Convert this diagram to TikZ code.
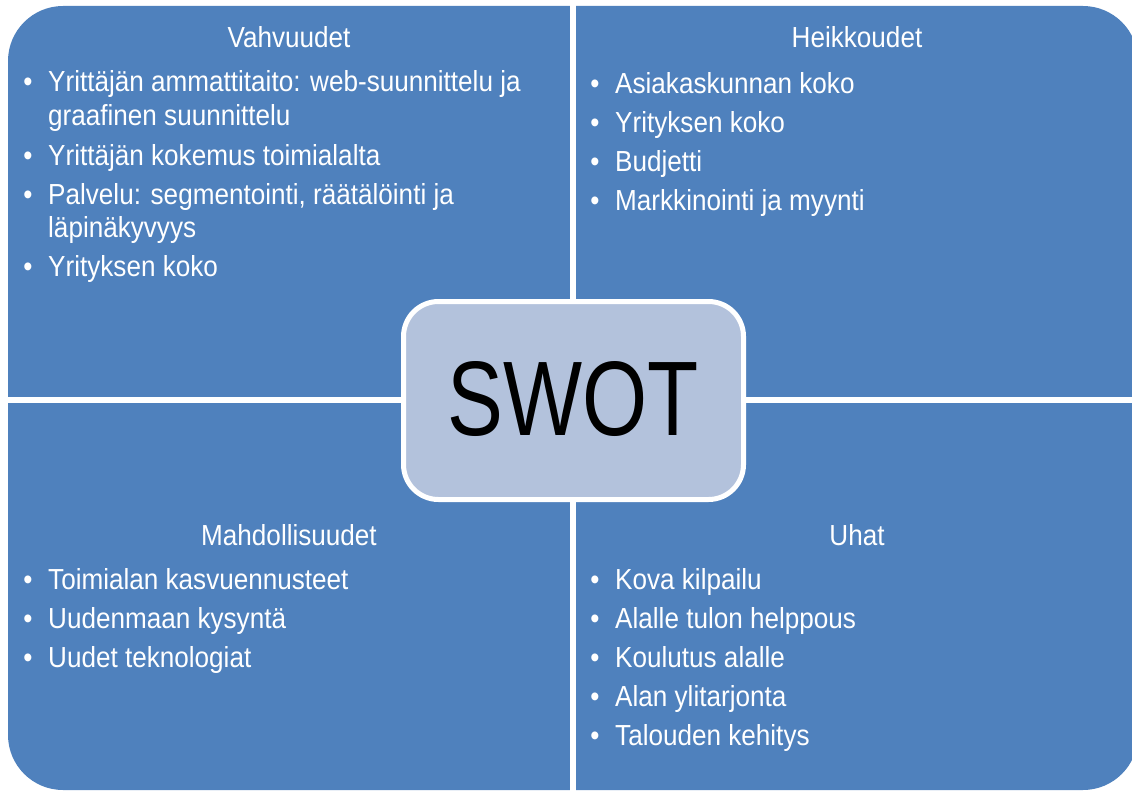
\documentclass[tikz,border=0pt]{standalone}
\usepackage{fontspec}
\setmainfont{Liberation Sans}
\newfontfamily\bodyfont[FakeStretch=0.90]{Liberation Sans}
\newfontfamily\swotfont[FakeStretch=0.79]{Liberation Sans}
\definecolor{swotblue}{HTML}{4F81BD}
\definecolor{swotlight}{HTML}{B3C2DC}
\newcommand\swotitem[5]{%
  \node[bul] (#1b) at (#2,#4) {•};
  \node[txt] (#1) at (#3,#4) {#5};}
\begin{document}
\begin{tikzpicture}[x=1pt,y=-1pt,
  txt/.style={anchor=base west, inner sep=0pt, text=white, font=\bodyfont\fontsize{29}{33}\selectfont},
  ttl/.style={anchor=base, inner sep=0pt, text=white, font=\bodyfont\fontsize{29}{33}\selectfont},
  bul/.style={anchor=base, inner sep=0pt, text=white, font=\bodyfont\fontsize{29}{33}\selectfont}]
\useasboundingbox (0,0) rectangle (1132,792);
\fill[swotblue, rounded corners=55pt] (8,6) rectangle (1138,790);
\fill[white] (570,0) rectangle (576,792);
\fill[white] (0,397) rectangle (1138,403);
\node[draw=white, line width=5pt, fill=swotlight, rounded corners=35pt,
  minimum width=340pt, minimum height=198pt, inner sep=0pt] (swot) at (573.5,400.5)
  {\raisebox{4.5pt}{\swotfont\fontsize{106}{106}\selectfont SWOT}};
% Strengths
\node[ttl] (tS) at (289,48) {Vahvuudet};
\swotitem{s1}{28}{48}{92}{Yrittäjän ammattitaito: web-suunnittelu ja}
\node[txt] (s1c) at (48,125) {graafinen suunnittelu};
\swotitem{s2}{28}{48}{165}{Yrittäjän kokemus toimialalta}
\swotitem{s3}{28}{48}{204}{Palvelu: segmentointi, räätälöinti ja}
\node[txt] (s3c) at (48,237) {läpinäkyvyys};
\swotitem{s4}{28}{48}{276}{Yrityksen koko}
% Weaknesses
\node[ttl] (tW) at (857,48) {Heikkoudet};
\swotitem{w1}{595}{615}{93}{Asiakaskunnan koko}
\swotitem{w2}{595}{615}{132}{Yrityksen koko}
\swotitem{w3}{595}{615}{171}{Budjetti}
\swotitem{w4}{595}{615}{210}{Markkinointi ja myynti}
% Opportunities
\node[ttl] (tO) at (289,545) {Mahdollisuudet};
\swotitem{o1}{28}{48}{589}{Toimialan kasvuennusteet}
\swotitem{o2}{28}{48}{628}{Uudenmaan kysyntä}
\swotitem{o3}{28}{48}{667}{Uudet teknologiat}
% Threats
\node[ttl] (tT) at (857,545) {Uhat};
\swotitem{t1}{595}{615}{589}{Kova kilpailu}
\swotitem{t2}{595}{615}{628}{Alalle tulon helppous}
\swotitem{t3}{595}{615}{667}{Koulutus alalle}
\swotitem{t4}{595}{615}{706}{Alan ylitarjonta}
\swotitem{t5}{595}{615}{745}{Talouden kehitys}
\end{tikzpicture}
\end{document}
